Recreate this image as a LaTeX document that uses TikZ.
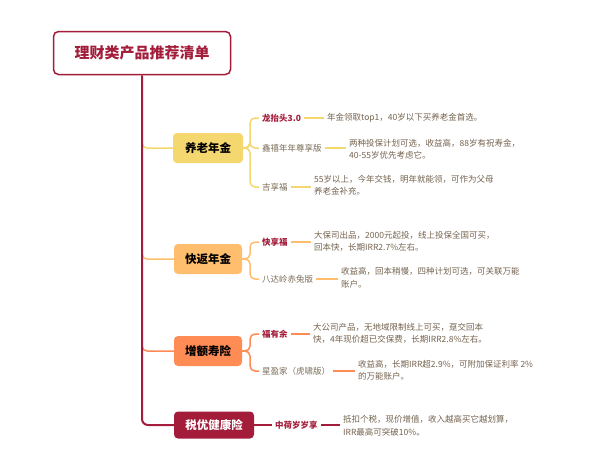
\documentclass[tikz,border=0pt]{standalone}
\usepackage{fontspec}
\setmainfont{Noto Sans CJK SC}
\definecolor{zred}{HTML}{A31C3A}
\definecolor{yel}{HTML}{F4D76E}
\definecolor{lor}{HTML}{FFBE6E}
\definecolor{dor}{HTML}{FF8B55}
\definecolor{itemgray}{HTML}{7A6C58}
\definecolor{notegray}{HTML}{74624E}
\begin{document}
\begin{tikzpicture}[x=1pt,y=-1pt,
    box/.style={rounded corners=4pt,minimum height=30pt,inner sep=0pt,font=\fontsize{11.5}{13}\selectfont\bfseries},
    item/.style={anchor=west,inner xsep=3pt,inner ysep=1pt,text=itemgray,font=\fontsize{8.5}{11}\selectfont},
    hot/.style={item,text=zred,font=\fontsize{8.5}{11}\selectfont\bfseries},
    note/.style={anchor=west,align=left,inner xsep=3pt,inner ysep=1pt,text=notegray,font=\fontsize{8.5}{12.5}\selectfont},
    branch/.style={line width=1.5pt,rounded corners=5pt},
    twig/.style={line width=1.2pt}]
  \useasboundingbox (0,0) rectangle (600,450);

  \node[draw=zred,line width=1.5pt,rounded corners=5pt,minimum width=177pt,minimum height=43pt,
    text=zred,font=\fontsize{15}{17}\selectfont\bfseries](root)at(142,53){理财类产品推荐清单};

  \node[box,fill=yel,minimum width=70pt](yl)at(208,148){养老年金};
  \node[box,fill=lor,minimum width=68pt](kf)at(208,259){快返年金};
  \node[box,fill=dor,minimum width=68pt](ze)at(208,351){增额寿险};
  \node[box,fill=zred,text=white,minimum width=80pt,minimum height=27pt](sy)at(214,425){税优健康险};

  \draw[yel,branch](root.south|-yl.west)++(0,-7)--++(0,7)--(yl.west);
  \draw[lor,branch](root.south|-kf.west)++(0,-7)--++(0,7)--(kf.west);
  \draw[dor,branch](root.south|-ze.west)++(0,-7)--++(0,7)--(ze.west);
  \draw[zred,line width=2pt,rounded corners=6pt](root.south)|-(sy.west);

  \coordinate(ylb)at(250,148);
  \coordinate(kfb)at(250,259);
  \coordinate(zeb)at(250,351);

  \node[hot](y1)at(259,118){龙抬头3.0};
  \node[item](y2)at(259,148){鑫禧年年尊享版};
  \node[item](y3)at(259,187){吉享福};
  \node[hot](k1)at(259,242){快享福};
  \node[item](k2)at(259,279){八达岭赤兔版};
  \node[hot](z1)at(259,334){福有余};
  \node[item](z2)at(259,371){星盈家（虎啸版）};
  \node[hot](s1)at(272,425){中荷岁岁享};

  \foreach \c in {y1,y2,y3} \draw[yel,branch](yl.east)--(ylb)|-(\c.west);
  \foreach \c in {k1,k2} \draw[lor,branch](kf.east)--(kfb)|-(\c.west);
  \foreach \c in {z1,z2} \draw[dor,branch](ze.east)--(zeb)|-(\c.west);
  \draw[zred,branch](sy.east)--(s1.west);

  \node[note](n1)at(324,118){年金领取top1，40岁以下买养老金首选。};
  \node[note](n2)at(346,149){两种投保计划可选，收益高，88岁有祝寿金，\\40-55岁优先考虑它。};
  \node[note](n3)at(311,185.5){55岁以上，今年交钱，明年就能领，可作为父母\\养老金补充。};
  \node[note](n4)at(311,241.5){大保司出品，2000元起投，线上投保全国可买，\\回本快，长期IRR2.7\%左右。};
  \node[note](n5)at(338,278){收益高，回本稍慢，四种计划可选，可关联万能\\账户。};
  \node[note](n6)at(310,333.5){大公司产品，无地域限制线上可买，趸交回本\\快，4年现价超已交保费，长期IRR2.8\%左右。};
  \node[note](n7)at(355,370.5){收益高，长期IRR超2.9\%，可附加保证利率 2\%\\的万能账户。};
  \node[note](n8)at(340,425.5){抵扣个税，现价增值，收入越高买它越划算，\\IRR最高可突破10\%。};

  \draw[yel,twig](y1.east)--(y1.east-|n1.west);
  \draw[yel,twig](y2.east)--(y2.east-|n2.west);
  \draw[yel,twig](y3.east)--(y3.east-|n3.west);
  \draw[lor,twig](k1.east)--(k1.east-|n4.west);
  \draw[lor,twig](k2.east)--(k2.east-|n5.west);
  \draw[dor,twig](z1.east)--(z1.east-|n6.west);
  \draw[dor,twig](z2.east)--(z2.east-|n7.west);
  \draw[zred,twig](s1.east)--(s1.east-|n8.west);
\end{tikzpicture}
\end{document}
